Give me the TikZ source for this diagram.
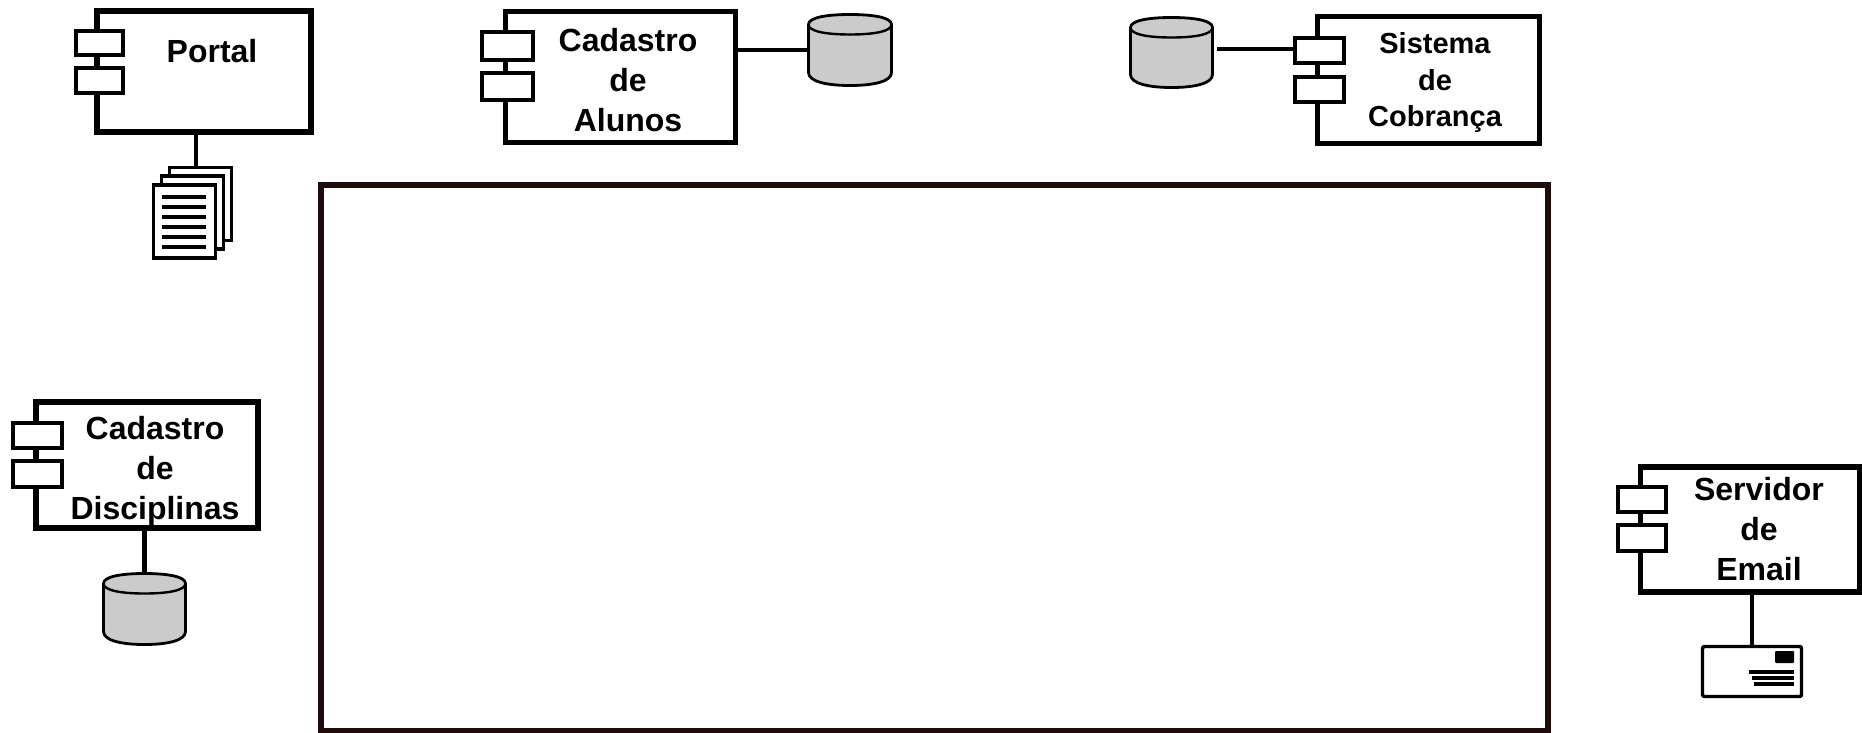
\documentclass[tikz,border=0pt]{standalone}
\usepackage{fontspec}
\setmainfont{Liberation Sans}
\newcommand{\cylshape}[5]{% name, left, top, right, bottom
  \node[cylnode, minimum width=#4-#2, minimum height=#5-#3] (#1) at ({(#2+#4)/2},{(#3+#5)/2}) {};
  \draw[cylline] (#2,#3+10) -- (#2,#5-13) .. controls (#2,#5-4) and ({#2+18},#5) .. ({(#2+#4)/2},#5)
     .. controls ({#4-18},#5) and (#4,#5-4) .. (#4,#5-13) -- (#4,#3+10)
     .. controls (#4,#3+3) and ({#4-18},#3) .. ({(#2+#4)/2},#3)
     .. controls ({#2+18},#3) and (#2,#3+3) .. (#2,#3+10) -- cycle;
  \draw[cylrim] (#2,#3+10) .. controls (#2,#3+17) and ({#2+18},#3+20) .. ({(#2+#4)/2},#3+20)
     .. controls ({#4-18},#3+20) and (#4,#3+17) .. (#4,#3+10);
}
\definecolor{cylgrey}{HTML}{CBCBCB}
\definecolor{framedark}{HTML}{1E0C0C}
\tikzset{
  x=1pt, y=-1pt,
  box/.style={draw=black, line width=5.6pt, fill=white, inner sep=0pt, outer sep=0pt},
  port/.style={draw=black, line width=4pt, fill=white, inner sep=0pt, outer sep=0pt},
  wire/.style={draw=black, line width=4.4pt},
  label/.style={font=\fontsize{32}{40}\selectfont\bfseries, align=center, anchor=center, inner sep=0pt},
  smalllabel/.style={font=\fontsize{29}{36.5}\selectfont\bfseries, align=center, anchor=center, inner sep=0pt},
  cylnode/.style={inner sep=0pt, outer sep=0pt},
  cylline/.style={draw=black, line width=2.8pt, fill=cylgrey},
  cylrim/.style={draw=black, line width=2.4pt},
  sheet/.style={draw=black, line width=3.4pt, fill=white, inner sep=0pt, outer sep=0pt},
  textline/.style={draw=black, line width=3.6pt},
  mailline/.style={draw=black, line width=3.2pt},
}
\begin{document}
\begin{tikzpicture}
\useasboundingbox (0,0) rectangle (1862,732);
\fill[white] (0,0) rectangle (1862,732);

% big frame
\node[draw=framedark, line width=6pt, inner sep=0pt, outer sep=0pt, minimum width=1227.5pt, minimum height=545.5pt] (frame) at (934.25,457.75) {};

% Portal
\node[box, minimum width=214pt, minimum height=121pt] (portal) at (204,71.5) {};
\node[port, minimum width=47pt, minimum height=24pt] (portalA) at (99.5,43) {};
\node[port, minimum width=47pt, minimum height=25pt] (portalB) at (99.5,80.5) {};
\node[label] (portalT) at (212,51.5) {Portal};
\node[sheet, minimum width=62pt, minimum height=73pt] (docC) at (200.5,204) {};
\node[sheet, minimum width=62pt, minimum height=73pt] (docB) at (192.5,212.5) {};
\node[sheet, minimum width=62pt, minimum height=73pt] (docA) at (184.5,221.5) {};
\foreach \yy in {197,207,217,227,237,247} \draw[textline] (162,\yy) -- (206,\yy);
\draw[wire] (196,134) -- (docC.north -| 196,0);

% Cadastro de Alunos
\node[box, minimum width=230pt, minimum height=131pt] (alunos) at (620.5,77) {};
\node[port, minimum width=51pt, minimum height=28pt] (alunosA) at (507.5,46) {};
\node[port, minimum width=51pt, minimum height=27pt] (alunosB) at (507.5,86.5) {};
\node[label] (alunosT) at (628,80) {Cadastro\\de\\Alunos};
\cylshape{alunosDb}{808.5}{14.5}{891.5}{85.5}
\draw[wire] (alunos.east |- 0,50) -- (alunosDb.west |- 0,50);

% Sistema de Cobranca
\node[box, minimum width=222pt, minimum height=127pt] (sistema) at (1428.5,80) {};
\node[port, minimum width=49pt, minimum height=25pt] (sistemaA) at (1319.5,50.5) {};
\node[port, minimum width=49pt, minimum height=25pt] (sistemaB) at (1319.5,89.5) {};
\node[smalllabel] (sistemaT) at (1435,82.5) {Sistema\\de\\Cobrança};
\cylshape{sistemaDb}{1130.5}{17.5}{1212.5}{87.5}
\coordinate (sistemaStart) at (1217,49);
\draw[wire] (sistemaStart) -- (sistemaA.west |- sistemaStart);

% Cadastro de Disciplinas
\node[box, minimum width=222pt, minimum height=126pt] (disc) at (147,465) {};
\node[port, minimum width=49pt, minimum height=25pt] (discA) at (37.5,435.5) {};
\node[port, minimum width=49pt, minimum height=26pt] (discB) at (37.5,474) {};
\node[label] (discT) at (155,471) {Cadastro\\de\\Disciplinas};
\cylshape{discDb}{103.5}{573.5}{185.5}{644.5}
\draw[wire] (disc.south -| discDb.north) -- (discDb.north);

% Servidor de Email
\node[box, minimum width=219pt, minimum height=125pt] (email) at (1750,529.5) {};
\node[port, minimum width=48pt, minimum height=25pt] (emailA) at (1642,499.5) {};
\node[port, minimum width=48pt, minimum height=26pt] (emailB) at (1642,538) {};
\node[label] (emailT) at (1759,529) {Servidor\\de\\Email};
\node[draw=black, line width=3.4pt, rounded corners=2pt, fill=white, inner sep=0pt, outer sep=0pt, minimum width=99pt, minimum height=50pt] (env) at (1752,671.5) {};
\node[fill=black, inner sep=0pt, outer sep=0pt, minimum width=19pt, minimum height=12pt, rounded corners=1pt] (stamp) at (1784.5,657) {};
\draw[mailline] (1749,672) -- (1794,672);
\draw[mailline] (1752,678) -- (1794,678);
\draw[mailline] (1754,684) -- (1794,684);
\draw[wire] (email.south -| env.north) -- (env.north);
\end{tikzpicture}
\end{document}
